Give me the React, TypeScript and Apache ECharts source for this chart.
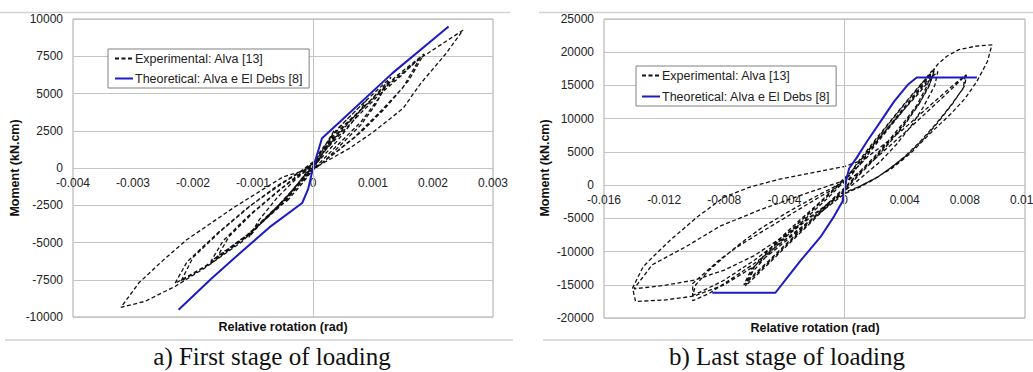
import React, { useEffect, useRef } from "react";
import * as echarts from "echarts";

const expName = "Experimental: Alva [13]";
const theoName = "Theoretical: Alva e El Debs [8]";

// Tick settings
const leftXTicks = { min: -0.004, max: 0.003, interval: 0.001 };
const leftYTicks = { min: -10000, max: 10000, interval: 2500 };
const rightXTicks = { min: -0.016, max: 0.012, interval: 0.004 };
const rightYTicks = { min: -20000, max: 25000, interval: 5000 };

// ---- a) First stage: experimental cycles ----
const leftCycle1 = [
  [0, 0], [0.0001, 800], [0.0002, 1500], [0.00035, 2500],
  [0.00025, 1600], [0.0001, 600], [0, -100],
  [-0.00015, -900], [-0.0003, -1600], [-0.00045, -2300],
  [-0.0003, -1300], [-0.00015, -500], [0, 300],
];
const leftCycle2 = [
  [0.0002, 1400], [0.0005, 3000], [0.0009, 4600],
  [0.0007, 3300], [0.0004, 1800], [0.0001, 500], [-0.0001, -300],
  [-0.0004, -1800], [-0.0008, -3400], [-0.00107, -4650],
  [-0.0009, -3500], [-0.0006, -2000], [-0.0003, -800], [0, 200],
];
const leftCycle3 = [
  [0.0001, 1000], [0.0004, 2600], [0.0008, 4200], [0.0013, 6100],
  [0.0011, 4700], [0.0008, 3100], [0.0004, 1500], [0.0001, 300], [-0.0001, -400],
  [-0.0005, -2300], [-0.0011, -4500], [-0.0017, -6250],
  [-0.0015, -4900], [-0.0011, -3300], [-0.0006, -1600], [-0.0002, -300], [0.0001, 600],
];
const leftCycle3b = [
  [0.0002, 1200], [0.0005, 2700], [0.0009, 4300], [0.00125, 5800],
  [0.00105, 4300], [0.0008, 2900], [0.0005, 1700], [0.0002, 500], [-0.0001, -500],
  [-0.0005, -2400], [-0.001, -4200], [-0.0016, -6000],
  [-0.0014, -4600], [-0.001, -3000], [-0.0005, -1300], [-0.0001, -100], [0.0001, 500],
];
const leftCycle4 = [
  [0.0002, 1300], [0.0005, 2800], [0.001, 4700], [0.0014, 6200], [0.00185, 7650],
  [0.0016, 5900], [0.0012, 4000], [0.0008, 2400], [0.0004, 1100], [0.0001, 200], [-0.0001, -400],
  [-0.0006, -2600], [-0.0012, -4900], [-0.0018, -6600], [-0.0023, -7750],
  [-0.0021, -6300], [-0.0016, -4400], [-0.0011, -2700], [-0.0006, -1200], [-0.0002, -200], [0.0001, 700],
];
const leftCycle4b = [
  [0.0003, 1600], [0.0007, 3300], [0.0011, 4900], [0.0015, 6300], [0.0018, 7500],
  [0.0015, 5400], [0.0011, 3700], [0.0007, 2100], [0.0003, 800], [0, -100],
  [-0.0005, -2300], [-0.0011, -4600], [-0.0017, -6400], [-0.0022, -7600],
  [-0.002, -6000], [-0.0015, -4100], [-0.001, -2400], [-0.0005, -1000], [-0.0001, 0], [0.0001, 600],
];
const leftCycle5 = [
  [0.0003, 1700], [0.0007, 3500], [0.0012, 5400], [0.0018, 7400], [0.0025, 9250],
  [0.0022, 7600], [0.0018, 5700], [0.0015, 4000], [0.001, 2400], [0.0006, 1300], [0.0002, 400], [-0.0001, -300],
  [-0.0006, -2700], [-0.0012, -5000], [-0.0018, -6700], [-0.0023, -7950], [-0.0028, -8950], [-0.0032, -9350],
  [-0.0029, -7700], [-0.0025, -6200], [-0.0021, -4800], [-0.0013, -2600], [-0.0005, -600], [0, 0],
];
const leftTheoretical = [
  [-0.00224, -9520], [-0.0017, -7450], [-0.0012, -5650], [-0.0007, -3900],
  [-0.00018, -2350], [-0.00008, -1400], [0, 0], [0.00015, 2000],
  [0.00045, 3100], [0.00132, 6350], [0.00226, 9500],
];

// ---- b) Last stage: experimental cycles ----
const rightCycleA1 = [
  [0, 0], [0.001, 3200], [0.002, 6200], [0.003, 9000], [0.004, 11800], [0.005, 14600], [0.006, 17500],
  [0.0057, 15400], [0.005, 12400], [0.004, 9300], [0.003, 6600], [0.002, 4100], [0.001, 1800], [0, -600],
  [-0.001, -2700], [-0.002, -4900], [-0.003, -7100], [-0.004, -9300], [-0.005, -11500], [-0.006, -13600], [-0.0067, -15000],
  [-0.0062, -12700], [-0.005, -9900], [-0.004, -7700], [-0.003, -5600], [-0.002, -3500], [-0.001, -1400], [0, 900],
];
const rightCycleA2 = [
  [0.001, 3500], [0.002, 6500], [0.003, 9400], [0.004, 12200], [0.005, 14900], [0.0058, 17200],
  [0.0055, 15000], [0.0048, 12000], [0.004, 9600], [0.003, 6900], [0.002, 4300], [0.001, 2000], [0, -400],
  [-0.001, -2500], [-0.002, -4700], [-0.003, -6900], [-0.004, -9100], [-0.005, -11300], [-0.006, -13400], [-0.0065, -14500],
  [-0.006, -12300], [-0.005, -9600], [-0.004, -7400], [-0.003, -5300], [-0.002, -3300], [-0.001, -1200], [0, 1100],
];
const rightCycleA3 = [
  [0.001, 3000], [0.002, 5900], [0.003, 8700], [0.004, 11500], [0.005, 14300], [0.0059, 16800],
  [0.0056, 14800], [0.0049, 12000], [0.004, 9100], [0.003, 6400], [0.002, 3900], [0.001, 1600], [0, -800],
  [-0.001, -2900], [-0.002, -5100], [-0.003, -7300], [-0.004, -9500], [-0.005, -11700], [-0.006, -13900], [-0.0066, -15200],
  [-0.0061, -13000], [-0.005, -10200], [-0.004, -8000], [-0.003, -5900], [-0.002, -3800], [-0.001, -1700], [0, 600],
];
const rightCycleC = [
  [0.001, 3800], [0.002, 6700], [0.003, 9500], [0.004, 12300], [0.005, 15000], [0.0058, 17000], [0.0062, 18200],
  [0.0068, 19400], [0.0076, 20400], [0.0087, 20900], [0.0098, 21100],
  [0.0095, 18600], [0.0088, 15600], [0.008, 13000], [0.0071, 10800], [0.0057, 7800], [0.0044, 4800],
  [0.0032, 2600], [0.002, 1000], [0.001, -200], [0, -1300],
  [-0.002, -4800], [-0.004, -8600], [-0.006, -12200], [-0.008, -15000], [-0.01, -16700], [-0.012, -17300], [-0.0139, -17500],
  [-0.0141, -15500], [-0.0134, -12300], [-0.0127, -10700], [-0.0116, -8300], [-0.0098, -4800], [-0.008, -1800],
  [-0.0063, -300], [-0.0045, 800], [-0.0023, 1800], [0, 2800], [0.0006, 3300],
];
const rightCycleC2 = [
  [0.001, 3600], [0.002, 6300], [0.003, 8900], [0.004, 11500], [0.005, 14000], [0.0058, 16200], [0.0062, 17100],
  [0.006, 15000], [0.0052, 11600], [0.0044, 8800], [0.0034, 6000], [0.0024, 3600], [0.0012, 1300], [0, -900],
  [-0.002, -4300], [-0.004, -7600], [-0.006, -10600], [-0.008, -12800], [-0.01, -14300], [-0.012, -15100], [-0.014, -15600],
  [-0.0128, -12000], [-0.0105, -9200], [-0.0083, -6200], [-0.0056, -3700], [-0.0025, -1200], [0, 700],
];
const rightCycleB1 = [
  [0.0015, 4200], [0.003, 6800], [0.004, 8600], [0.005, 10600], [0.006, 12600], [0.007, 14600], [0.008, 16500],
  [0.0079, 14600], [0.007, 11800], [0.006, 9000], [0.005, 6500], [0.004, 4300], [0.003, 2500], [0.002, 900], [0.001, -300], [0, -1300],
  [-0.002, -4800], [-0.004, -8300], [-0.006, -11800], [-0.008, -14800], [-0.009, -16300], [-0.0101, -17400],
  [-0.0101, -14800], [-0.0092, -13000], [-0.0083, -11200], [-0.0072, -9400], [-0.006, -7700], [-0.0038, -4700], [-0.0016, -1700], [0, 300],
];
const rightCycleB2 = [
  [0.001, 2000], [0.002, 3900], [0.003, 5900], [0.004, 7900], [0.005, 10000], [0.006, 12100], [0.007, 14200], [0.0081, 16600],
  [0.008, 15000], [0.0072, 12300], [0.0062, 9400], [0.0052, 6800], [0.0042, 4600], [0.0032, 2800], [0.0022, 1200], [0.001, -200], [0, -1100],
  [-0.002, -4400], [-0.004, -7900], [-0.006, -11300], [-0.008, -14300], [-0.0095, -16000], [-0.0101, -16600],
  [-0.0099, -15000], [-0.009, -12800], [-0.008, -10800], [-0.007, -8900], [-0.0055, -6400], [-0.0035, -3700], [-0.0015, -1200], [0, 500],
];
const rightTheoretical = [
  [-0.0088, -16200], [-0.0046, -16200], [-0.0038, -13900], [-0.0029, -11300], [-0.0016, -7800],
  [-0.0007, -4700], [-0.0001, -2300], [0.0001, 600], [0.0003, 2500], [0.0008, 4100], [0.0015, 6600],
  [0.0024, 9600], [0.0033, 12600], [0.0042, 15100], [0.0048, 16200], [0.0088, 16200],
];

const captions = ["a) First stage of loading", "b) Last stage of loading"];
const yTitle = "Moment (kN.cm)";
const xTitle = "Relative rotation (rad)";

const SANS = '"Liberation Sans", Arial, sans-serif';
const SERIF = '"Liberation Serif", "Times New Roman", serif';
const GRID_C = "#c4c4c4";
const BORDER_C = "#a8a8a8";
const BLUE = "#1c1cc4";

const fmtX = (v: number) => (Math.abs(v) < 1e-12 ? "0" : v.toFixed(3));
const fmtY = (v: number) => String(Math.round(v));

const GRID_L = { left: 73, top: 19, width: 420, height: 298 };
const GRID_R = { left: 604, top: 19, width: 421, height: 299 };

function App() {
  const ref = useRef<HTMLDivElement>(null);
  useEffect(() => {
    if (!ref.current) return;
    const chart = echarts.init(ref.current, undefined, { renderer: "svg" });
    const xAxisBase = (gi: number, t: any, g: any, yt: any) => ({
      type: "value",
      gridIndex: gi,
      min: t.min,
      max: t.max,
      interval: t.interval,
      position: "bottom",
      offset: -(g.height * (0 - yt.min)) / (yt.max - yt.min),
      axisLine: { show: true, onZero: false, lineStyle: { color: GRID_C, width: 1 } },
      axisTick: { show: false },
      splitLine: { show: false },
      axisLabel: { formatter: fmtX, color: "#222", fontSize: 12, fontFamily: SANS, margin: 9, showMinLabel: true, showMaxLabel: true, hideOverlap: false },
    });
    const yAxisBase = (gi: number, t: any) => ({
      type: "value",
      gridIndex: gi,
      min: t.min,
      max: t.max,
      interval: t.interval,
      axisLine: { show: false, onZero: false },
      axisTick: { show: false },
      splitLine: { show: true, lineStyle: { color: GRID_C, width: 1 } },
      axisLabel: { formatter: fmtY, color: "#222", fontSize: 12, fontFamily: SANS, margin: 10 },
    });
    const zeroLine = {
      silent: true,
      symbol: ["none", "none"],
      label: { show: false },
      lineStyle: { color: GRID_C, type: "solid", width: 1 },
      data: [{ xAxis: 0 }],
      animation: false,
    };
    const expStyle = { color: "#111", width: 1.3, type: [4, 2.5] };
    const theoStyle = { color: BLUE, width: 2, type: "solid" };
    const legendBase = {
      orient: "vertical",
      data: [expName, theoName],
      borderColor: "#808080",
      borderWidth: 1,
      backgroundColor: "#fff",
      borderRadius: 0,
      padding: [3, 6, 3, 6],
      itemWidth: 18,
      itemHeight: 12,
      itemGap: 7,
      itemStyle: { opacity: 0 },
      textStyle: { fontSize: 12.5, fontFamily: SANS, color: "#222", padding: [0, 0, 0, -3] },
    };
    const titleText = (x: number, y: number, text: string, rot = 0) => ({
      type: "text",
      x,
      y,
      rotation: rot,
      silent: true,
      style: {
        text,
        fill: "#111",
        fontSize: 12.5,
        fontWeight: "bold",
        fontFamily: SANS,
        textAlign: "center",
        textVerticalAlign: "middle",
        align: "center",
        verticalAlign: "middle",
      },
    });
    const sep = (x1: number, x2: number, y: number) => ({
      type: "line",
      silent: true,
      shape: { x1, y1: y, x2, y2: y },
      style: { stroke: "#d2d2d2", lineWidth: 1.5 },
    });
    const captionText = (x: number, text: string) => ({
      type: "text",
      x,
      y: 356,
      silent: true,
      style: {
        text,
        fill: "#111",
        fontSize: 25,
        fontFamily: SERIF,
        textAlign: "center",
        textVerticalAlign: "middle",
        align: "center",
        verticalAlign: "middle",
      },
    });
    chart.setOption({
      animation: false,
      backgroundColor: "#fff",
      grid: [
        { ...GRID_L, show: true, borderColor: BORDER_C, borderWidth: 1, backgroundColor: "transparent" },
        { ...GRID_R, show: true, borderColor: BORDER_C, borderWidth: 1, backgroundColor: "transparent" },
      ],
      xAxis: [xAxisBase(0, leftXTicks, GRID_L, leftYTicks), xAxisBase(1, rightXTicks, GRID_R, rightYTicks)],
      yAxis: [yAxisBase(0, leftYTicks), yAxisBase(1, rightYTicks)],
      legend: [
        { ...legendBase, left: 108, top: 49 },
        { ...legendBase, left: 636, top: 66, itemGap: 8, padding: [3, 6, 3, 5] },
      ],
      series: [
        {
          name: expName, type: "line", xAxisIndex: 0, yAxisIndex: 0, showSymbol: false, symbol: "none",
          lineStyle: expStyle, itemStyle: { color: "#111" },
          data: [...leftCycle1, ...leftCycle2, ...leftCycle3, ...leftCycle3b, ...leftCycle4, ...leftCycle4b, ...leftCycle5],
          z: 3,
        },
        {
          name: theoName, type: "line", xAxisIndex: 0, yAxisIndex: 0, showSymbol: false, symbol: "none",
          lineStyle: theoStyle, itemStyle: { color: BLUE },
          data: leftTheoretical, markLine: zeroLine, z: 4,
        },
        {
          name: expName, type: "line", xAxisIndex: 1, yAxisIndex: 1, showSymbol: false, symbol: "none",
          lineStyle: expStyle, itemStyle: { color: "#111" },
          data: [...rightCycleA1, ...rightCycleA2, ...rightCycleA3, ...rightCycleC, ...rightCycleC2, ...rightCycleB1, ...rightCycleB2],
          z: 3,
        },
        {
          name: theoName, type: "line", xAxisIndex: 1, yAxisIndex: 1, showSymbol: false, symbol: "none",
          lineStyle: theoStyle, itemStyle: { color: BLUE },
          data: rightTheoretical, markLine: zeroLine, z: 4,
        },
      ],
      graphic: [
        sep(0, 510, 12.5),
        sep(5, 513, 340),
        sep(539, 1060, 12.5),
        sep(543, 1060, 340),
        titleText(15, 168, yTitle, Math.PI / 2),
        titleText(545, 168, yTitle, Math.PI / 2),
        titleText(283, 327, xTitle),
        titleText(815, 328, xTitle),
        captionText(272, captions[0]),
        captionText(787, captions[1]),
      ],
    });
    return () => chart.dispose();
  }, []);
  return (
    <div style={{ position: "absolute", left: 0, top: 0, width: 1033, height: 372, overflow: "hidden" }}>
      <div ref={ref} style={{ width: 1060, height: 372 }} />
    </div>
  );
}

export default App;
